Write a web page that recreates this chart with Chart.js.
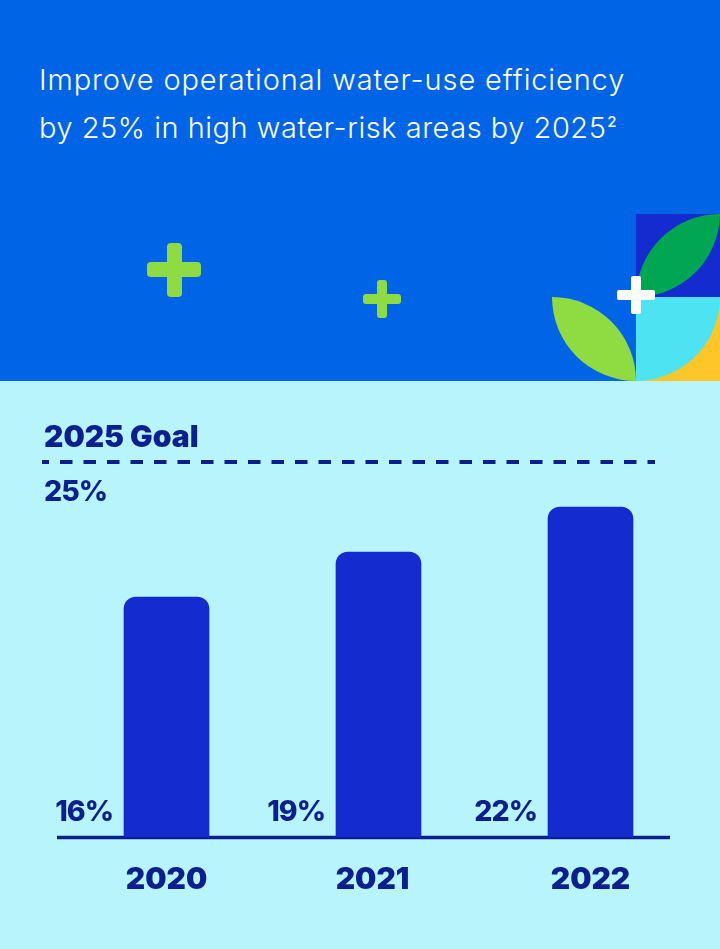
<!DOCTYPE html>
<html>
<head>
<meta charset="utf-8">
<title>Water-use efficiency</title>
<script src="https://cdn.jsdelivr.net/npm/chart.js@4"></script>
<style>
  html, body { margin: 0; padding: 0; background: #b8f4fb; }
  #pagina { position: relative; width: 720px; height: 949px; overflow: hidden; }
  #topo { position: absolute; left: 0; top: 0; width: 720px; height: 381px; background: #0064e6; }
  #topo svg { position: absolute; left: 0; top: 0; }
  #titulo { position: absolute; left: 39px; top: 56px; margin: 0; color: #fff; font: 300 29px/48px Inter, sans-serif; white-space: nowrap; }
  #titulo .l1 { letter-spacing: 0.87px; }
  #titulo .l2 { letter-spacing: 0.52px; }
  #titulo sup { font-size: 15px; font-weight: 500; line-height: 0; vertical-align: 11px; letter-spacing: 0; margin-left: 1px; }
  #grafico { position: absolute; left: 0; top: 0; }
</style>
</head>
<body>
<div id="pagina">
  <div id="topo">
    <svg width="720" height="381">
      <rect x="636" y="214" width="84" height="83" fill="#142bd0"/>
      <path d="M720 214 A84 84 0 0 0 636 297 A84 84 0 0 0 720 214 Z" fill="#00a651"/>
      <rect x="636" y="297" width="84" height="84" fill="#ffc629"/>
      <path d="M636 297 H720 A84 84 0 0 1 636 381 Z" fill="#4de3f3"/>
      <path d="M552 297 A84 84 0 0 1 636 381 A84 84 0 0 1 552 297 Z" fill="#8fdc42"/>
      <g fill="#8fdc42">
        <rect x="147" y="262" width="54" height="15" rx="4"/>
        <rect x="167" y="243" width="15" height="54" rx="4"/>
        <rect x="363" y="294" width="38" height="10" rx="3"/>
        <rect x="377" y="280" width="10" height="38" rx="3"/>
      </g>
      <g fill="#fff">
        <rect x="617" y="290" width="38" height="10" rx="2"/>
        <rect x="631" y="276" width="10" height="38" rx="2"/>
      </g>
    </svg>
    <h1 id="titulo" style="font-weight:300"><span class="l1">Improve operational water-use efficiency</span><br><span class="l2">by 25% in high water-risk areas by 2025<sup>2</sup></span></h1>
  </div>
  <canvas id="grafico" width="720" height="949"></canvas>
</div>
<script>
const anos = ['2020', '2021', '2022'];
const valores = [16, 19, 22];
const rotulos = ['16%', '19%', '22%'];
const meta = 25;
const meta_titulo = '2025 Goal';
const meta_rotulo = '25%';

const cor_texto = '#0b1f8e';
const fonte_forte = '900 30px Inter, sans-serif';
const fonte_pct = '800 28.5px Inter, sans-serif';
// o ano de 2021 nao fica centrado na barra no original
const ajuste_ano = [0, -6, 0];

const marcas = {
    id: 'marcas',
    beforeDatasetsDraw(chart){
        const ctx = chart.ctx;
        const y = chart.scales.y;
        ctx.save();
        // linha de base
        ctx.strokeStyle = cor_texto;
        ctx.lineWidth = 3.5;
        ctx.beginPath();
        ctx.moveTo(57, y.getPixelForValue(0) + 0.5);
        ctx.lineTo(670, y.getPixelForValue(0) + 0.5);
        ctx.stroke();
        // linha da meta
        ctx.lineWidth = 4;
        ctx.setLineDash([12.5, 11]);
        ctx.lineDashOffset = 5.5;
        ctx.beginPath();
        ctx.moveTo(42, y.getPixelForValue(meta));
        ctx.lineTo(655, y.getPixelForValue(meta));
        ctx.stroke();
        ctx.restore();
    },
    afterDatasetsDraw(chart){
        const ctx = chart.ctx;
        const x = chart.scales.x;
        const y = chart.scales.y;
        const barras = chart.getDatasetMeta(0).data;
        ctx.save();
        ctx.fillStyle = cor_texto;
        ctx.textBaseline = 'alphabetic';

        ctx.textAlign = 'left';
        ctx.font = fonte_forte;
        ctx.fillText(meta_titulo, 44, y.getPixelForValue(meta) - 15);
        ctx.font = fonte_pct;
        ctx.letterSpacing = '-1px';
        ctx.fillText(meta_rotulo, 44, y.getPixelForValue(meta) + 39);

        barras.forEach(function(barra, i){
            ctx.font = fonte_pct;
            ctx.letterSpacing = '-1px';
            ctx.textAlign = 'right';
            ctx.fillText(rotulos[i], barra.x - barra.width / 2 - 11, y.getPixelForValue(0) - 16);
            ctx.font = fonte_forte;
            ctx.letterSpacing = '0px';
            ctx.textAlign = 'center';
            ctx.fillText(anos[i], x.getPixelForTick(i) + ajuste_ano[i], y.getPixelForValue(0) + 52);
        });
        ctx.restore();
    }
};

new Chart(document.getElementById('grafico'), {
    type: 'bar',
    data: {
        labels: anos,
        datasets: [{
            data: valores,
            backgroundColor: '#142bd0',
            barThickness: 85,
            borderRadius: { topLeft: 12, topRight: 12, bottomLeft: 0, bottomRight: 0 },
            borderSkipped: false
        }]
    },
    options: {
        responsive: false,
        animation: false,
        events: [],
        layout: { padding: { left: 60.5, right: 23.5, top: 462, bottom: 112 } },
        plugins: { legend: { display: false }, tooltip: { enabled: false } },
        scales: {
            x: { display: false },
            y: { display: false, min: 0, max: meta }
        }
    },
    plugins: [marcas]
});
</script>
</body>
</html>
